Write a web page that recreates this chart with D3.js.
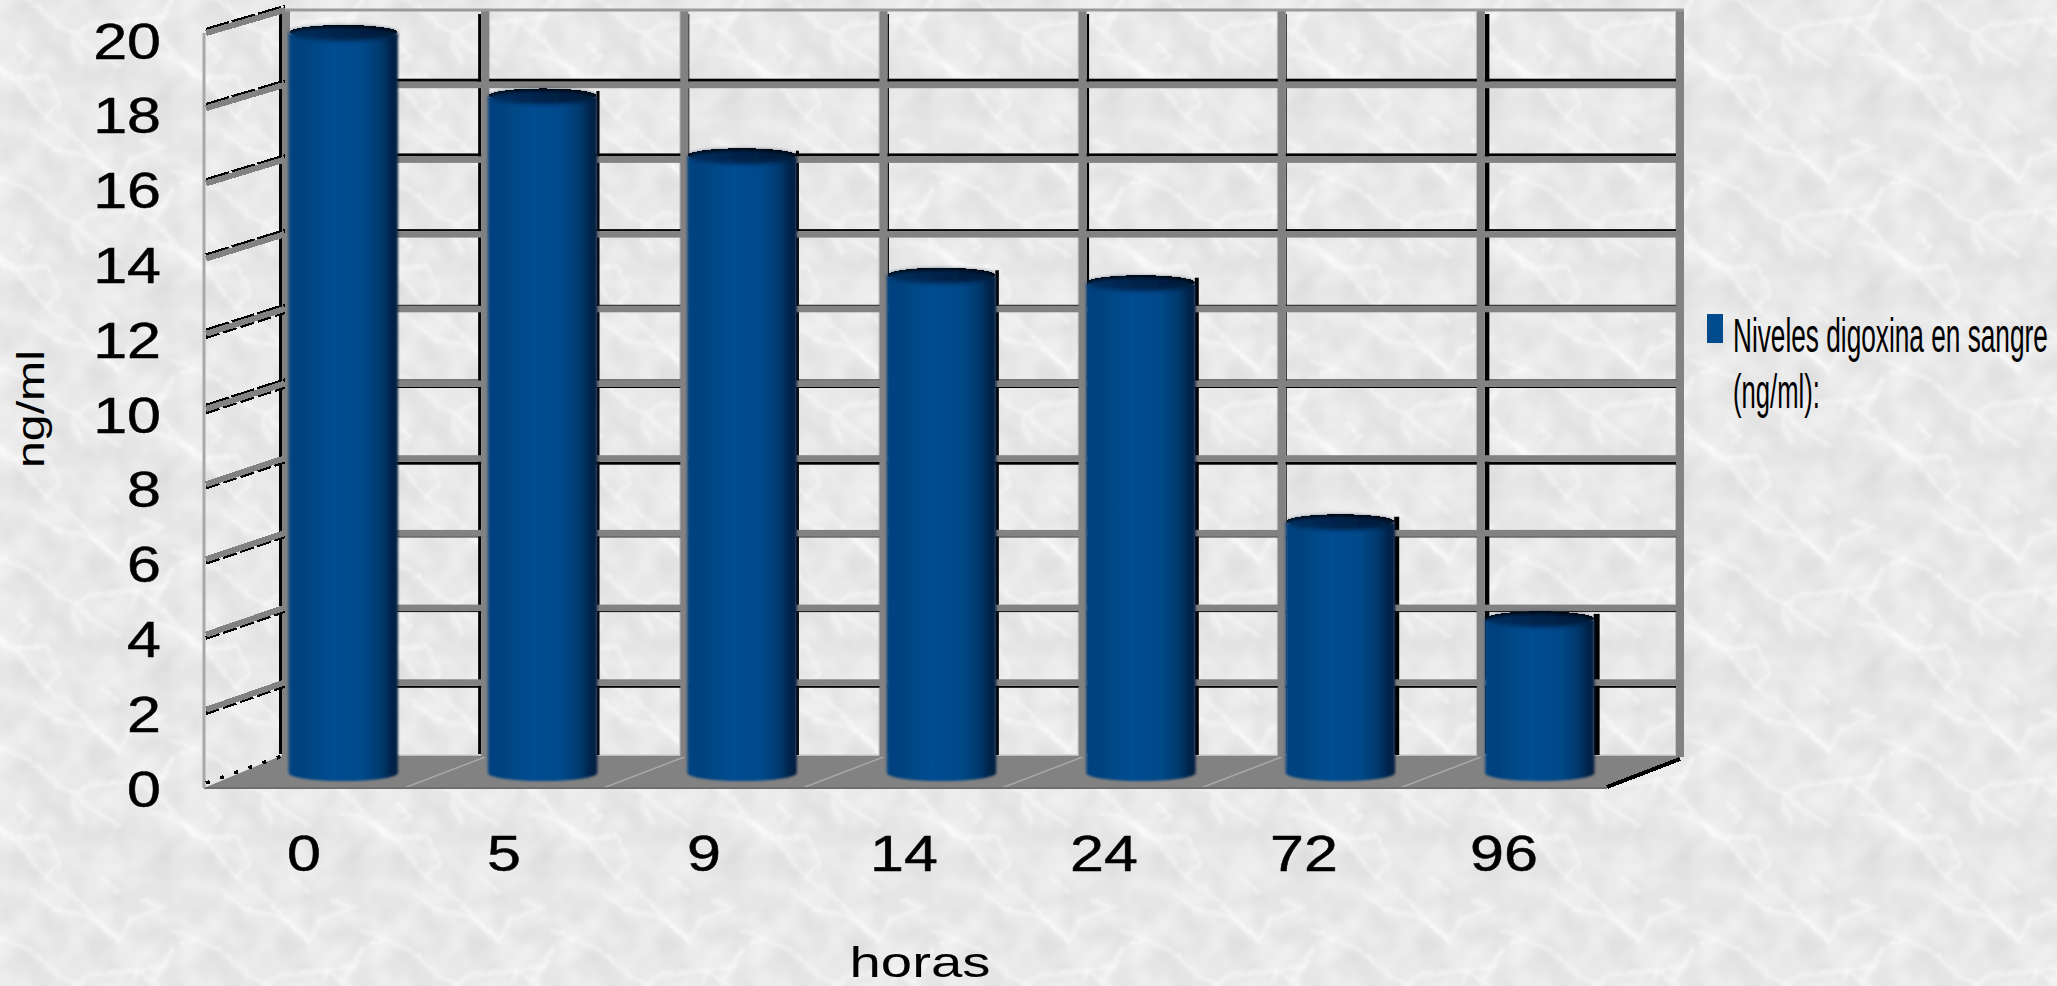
<!DOCTYPE html>
<html lang="es">
<head>
<meta charset="utf-8">
<title>Niveles de digoxina en sangre</title>
<script src="https://cdn.jsdelivr.net/npm/d3@7/dist/d3.min.js"></script>
<style>
  html, body { margin: 0; padding: 0; background: #e8e8e8; overflow: hidden; }
  svg { display: block; }
  text { font-family: "Liberation Sans", Arial, sans-serif; fill: #000; }
</style>
</head>
<body>
<script>
// Serum digoxin level by hours elapsed
const hours = ["0", "5", "9", "14", "24", "72", "96"];
const levels = [19.8, 18.1, 16.5, 13.3, 13.1, 6.7, 4.1];
const yTicks = [0, 2, 4, 6, 8, 10, 12, 14, 16, 18, 20];
const seriesName = ["Niveles digoxina en sangre", "(ng/ml):"];
const yTitle = "ng/ml";
const xTitle = "horas";

const W = 2057, H = 986;
const BLUE = "#004b8d", GRID = "#828282";

const svg = d3.select("body").append("svg").attr("width", W).attr("height", H);
const defs = svg.append("defs");

// Marble wallpaper tile: mottled grey with soft white veins
const tile = 190;
const veins = [
  [[0,190],[50,180],[120,210],[210,290],[260,310],[300,285],[360,280],[440,270],[430,310]],
  [[260,310],[290,345],[390,410]],
  [[250,310],[250,350],[280,400]],
  [[80,340],[120,380],[100,400]],
  [[440,270],[520,330],[550,370],[640,450]],
  [[0,390],[75,445],[150,540],[210,600]],
  [[75,445],[170,440],[210,520],[170,560]],
  [[120,30],[200,90],[300,110],[390,180],[420,120],[520,80],[450,60]],
  [[220,20],[350,150],[390,190]],
  [[520,260],[490,300]],
  [[480,370],[540,380],[620,440]],
  [[330,560],[390,610]],
  [[-30,150],[50,180]],
  [[550,200],[520,260],[440,270]]
];
const mottle = defs.append("filter").attr("id", "mottle")
  .attr("filterUnits", "userSpaceOnUse")
  .attr("x", 0).attr("y", 0).attr("width", tile).attr("height", tile)
  .attr("color-interpolation-filters", "sRGB");
mottle.append("feTurbulence").attr("type", "fractalNoise")
  .attr("baseFrequency", 0.03).attr("numOctaves", 2).attr("seed", 7)
  .attr("stitchTiles", "stitch");
mottle.append("feColorMatrix").attr("type", "matrix")
  .attr("values", "0.14 0 0 0 0.84  0.14 0 0 0 0.84  0.14 0 0 0 0.84  0 0 0 0 1");

const veinFx = defs.append("filter").attr("id", "veinFx")
  .attr("x", "-10%").attr("y", "-10%").attr("width", "120%").attr("height", "120%");
veinFx.append("feTurbulence").attr("type", "fractalNoise")
  .attr("baseFrequency", 0.05).attr("numOctaves", 3).attr("seed", 3).attr("result", "w");
veinFx.append("feDisplacementMap").attr("in", "SourceGraphic").attr("in2", "w")
  .attr("scale", 30).attr("xChannelSelector", "R").attr("yChannelSelector", "G");
veinFx.append("feGaussianBlur").attr("stdDeviation", 2.6);
defs.append("filter").attr("id", "soft").attr("x", "-20%").attr("y", "-20%")
  .attr("width", "140%").attr("height", "140%")
  .append("feGaussianBlur").attr("stdDeviation", 7);

const marble = defs.append("pattern").attr("id", "marble")
  .attr("patternUnits", "userSpaceOnUse")
  .attr("x", 1700).attr("y", 500).attr("width", tile).attr("height", tile);
marble.append("rect").attr("width", tile).attr("height", tile).attr("fill", "#e9e9e9");
marble.append("rect").attr("width", tile).attr("height", tile)
  .attr("filter", "url(#mottle)").attr("opacity", 0.85);
const veinG = marble.append("g").attr("transform", "scale(0.3333)");
const veinPath = d3.line().curve(d3.curveLinear);
[[0, 0], [-570, 0], [570, 0], [0, -570], [0, 570]].forEach(([dx, dy]) => {
  const g = veinG.append("g").attr("transform", `translate(${dx},${dy})`);
  g.append("g").attr("filter", "url(#soft)").selectAll("path").data(veins).join("path")
    .attr("d", veinPath).attr("fill", "none")
    .attr("stroke", "#fff").attr("stroke-width", 14).attr("stroke-opacity", 0.3);
  g.append("g").attr("filter", "url(#veinFx)").selectAll("path").data(veins).join("path")
    .attr("d", veinPath).attr("fill", "none")
    .attr("stroke", "#fff").attr("stroke-width", 5).attr("stroke-opacity", 0.38);
});
svg.append("rect").attr("width", W).attr("height", H).attr("fill", "url(#marble)");

// Plot box: back wall, front plane and the depth between them
const wallX = d3.scalePoint().domain(d3.range(8)).range([286, 1680]);
const wallY = d3.scaleLinear().domain([0, 20]).range([757, 10]);
const frontY = d3.scaleLinear().domain([0, 20]).range([785, 33]);
const frontLeft = 204, frontRight = 1607;
const depthLeft = 283;

const x = d3.scaleBand().domain(hours).range([243.5, 1639.5])
  .paddingInner(0.45).paddingOuter(0.225);
const xFront = d3.scaleBand().domain(hours).range([204, 1604]);
const yBar = d3.scaleLinear().domain([0, 20]).range([773, 26]);
const yLabel = d3.scaleLinear().domain([0, 20]).range([790, 42]);
const rows = hours.map((h, i) => ({ h, v: levels[i] }));

// Floor
const floorG = svg.append("g");
floorG.append("path")
  .attr("d", d3.line()([[frontLeft, 788], [frontRight, 788], [1680, 760], [1680, 755], [depthLeft, 755]]) + "Z")
  .attr("fill", GRID);
floorG.selectAll("line.seam").data(d3.range(1, 7)).join("line")
  .attr("x1", i => wallX(i) - 81).attr("y1", 788)
  .attr("x2", wallX).attr("y2", 757)
  .attr("stroke", "#a9a9a9").attr("stroke-width", 1.4);
floorG.append("line").attr("x1", depthLeft).attr("x2", 1680).attr("y1", 755).attr("y2", 755)
  .attr("stroke", "#d0d0d0").attr("stroke-width", 1.5);
floorG.append("line").attr("x1", frontLeft).attr("x2", frontRight).attr("y1", 788).attr("y2", 788)
  .attr("stroke", "#6e6e6e").attr("stroke-width", 2);

// Black shadow widths above and below each horizontal grid line
const shadowAbove = { 18: 3, 16: 3, 14: 2, 12: 1, 10: 1 };
const shadowBelow = { 10: 1, 8: 3, 6: 1, 4: 1, 2: 2 };
const wallLines = yTicks.filter(d => d > 0 && d < 20);

const gridG = svg.append("g");
// Shadow beside each vertical grid line: negative sits to its left
const colShadow = [-3, -3, 1, 1.5, 2.5, 1, 4.5];
gridG.selectAll("rect.vshadow").data(d3.range(7)).join("rect")
  .attr("x", i => colShadow[i] < 0 ? wallX(i) - 4 + colShadow[i] : wallX(i) + 4)
  .attr("width", i => Math.abs(colShadow[i]))
  .attr("y", 14).attr("height", 740).attr("fill", "#000");
// Pale edge on the vertical grid lines' open side
gridG.selectAll("rect.vlight").data(d3.range(1, 8)).join("rect")
  .attr("x", i => (colShadow[i] || 1) < 0 ? wallX(i) + 4 : wallX(i) - 5)
  .attr("width", 1).attr("y", 12).attr("height", 742).attr("fill", "#c4c4c4");
// Dark edge cast by the cylinders onto the wall
const edgeWidth = [0, 2, 2, 2.5, 3, 4, 5];
gridG.selectAll("rect.cast").data(rows).join("rect")
  .attr("x", d => x(d.h) + x.bandwidth() - 1)
  .attr("width", (d, i) => edgeWidth[i] ? edgeWidth[i] + 1 : 0)
  .attr("y", d => yBar(d.v) - 6).attr("height", d => 755 - yBar(d.v) + 6)
  .attr("fill", "#000");
gridG.selectAll("rect.above").data(wallLines).join("rect")
  .attr("x", depthLeft + 2).attr("width", 1391)
  .attr("y", d => wallY(d) - 3 - (shadowAbove[d] || 0))
  .attr("height", d => shadowAbove[d] || 0).attr("fill", "#000");
gridG.selectAll("rect.below").data(wallLines).join("rect")
  .attr("x", depthLeft + 2).attr("width", 1391)
  .attr("y", d => wallY(d) + 3.5)
  .attr("height", d => shadowBelow[d] || 0).attr("fill", "#000");
gridG.selectAll("rect.h").data(wallLines).join("rect")
  .attr("x", depthLeft).attr("width", 1400)
  .attr("y", d => wallY(d) - 3).attr("height", 6.5).attr("fill", GRID);
gridG.selectAll("rect.v").data(d3.range(8)).join("rect")
  .attr("x", i => wallX(i) - 4).attr("width", 8)
  .attr("y", 10).attr("height", 747).attr("fill", GRID);
gridG.append("line").attr("x1", depthLeft).attr("x2", 1684).attr("y1", 10).attr("y2", 10)
  .attr("stroke", "#9a9a9a").attr("stroke-width", 3);

// Left side wall: front edge and stair-stepped depth ticks
const sideG = svg.append("g");
sideG.append("line").attr("x1", frontLeft).attr("x2", frontLeft).attr("y1", frontY(20)).attr("y2", 788)
  .attr("stroke", "#a8a8a8").attr("stroke-width", 3);
const tick = sideG.selectAll("g.depth").data(yTicks).join("g").attr("shape-rendering", "crispEdges");
const tickLine = (sel, dy) => sel
  .attr("x1", frontLeft + 2).attr("x2", depthLeft + 2)
  .attr("y1", d => frontY(d) + dy).attr("y2", d => wallY(d) + dy);
tick.filter(d => d >= 10).append("line").call(tickLine, -3.5)
  .attr("stroke", "#000").attr("stroke-width", 3.5).attr("stroke-dasharray", "24 3");
tick.filter(d => d > 0 && d < 14).append("line").call(tickLine, 3.5)
  .attr("stroke", "#000").attr("stroke-width", 3.5).attr("stroke-dasharray", "14 4");
tick.filter(d => d > 0).append("line").call(tickLine, 0)
  .attr("stroke", GRID).attr("stroke-width", 6);
tick.filter(d => d === 0).append("line").call(tickLine, -2)
  .attr("stroke", "#000").attr("stroke-width", 3.5).attr("stroke-dasharray", "4 11");

// Black stepped edge along the right of the floor
svg.append("line").attr("x1", frontRight).attr("y1", 787).attr("x2", 1680).attr("y2", 759)
  .attr("shape-rendering", "crispEdges").attr("stroke", "#000").attr("stroke-width", 4);

// Cylinders
const shade = defs.append("linearGradient").attr("id", "cyl");
[[0, "#144f86"], [0.03, "#00427f"], [0.14, "#00437f"], [0.42, "#004d91"], [0.68, "#004989"],
 [0.85, "#00386c"], [0.96, "#001f42"], [1, "#0e2a48"]].forEach(([o, c]) =>
  shade.append("stop").attr("offset", o).attr("stop-color", c));
defs.append("filter").attr("id", "edge").attr("x", "-5%").attr("y", "-5%")
  .attr("width", "110%").attr("height", "110%")
  .append("feGaussianBlur").attr("stdDeviation", 0.9);
defs.append("filter").attr("id", "capBlur").attr("x", "-5%").attr("y", "-40%")
  .attr("width", "110%").attr("height", "180%")
  .append("feGaussianBlur").attr("stdDeviation", 2);
const capShade = defs.append("linearGradient").attr("id", "cap");
[[0, "#002f60"], [0.5, "#00224a"], [1, "#001a38"]].forEach(([o, c]) =>
  capShade.append("stop").attr("offset", o).attr("stop-color", c));

const RY = 7;
const bars = svg.append("g").selectAll("g.bar").data(rows).join("g");
const cx = d => x(d.h) + x.bandwidth() / 2;
bars.append("ellipse")
  .attr("cx", cx).attr("cy", d => yBar(d.v) - 1.5)
  .attr("rx", x.bandwidth() / 2 - 1).attr("ry", RY)
  .attr("fill", "#000").attr("shape-rendering", "crispEdges");
bars.append("path").attr("filter", "url(#edge)")
  .attr("d", d => {
    const l = x(d.h), w = x.bandwidth(), t = yBar(d.v), b = yBar(0);
    return `M${l},${t}L${l},${b}A${w / 2},${RY + 1} 0 0 0 ${l + w},${b}L${l + w},${t}Z`;
  })
  .attr("fill", "url(#cyl)");
bars.append("ellipse")
  .attr("cx", cx).attr("cy", d => yBar(d.v))
  .attr("rx", x.bandwidth() / 2 - 1).attr("ry", RY)
  .attr("fill", "url(#cap)").attr("filter", "url(#capBlur)");

// Axes
const digitStretch = 1.22;
const yAxis = svg.append("g").attr("transform", "translate(161,0)")
  .call(d3.axisLeft(yLabel).tickValues(yTicks).tickSize(0).tickPadding(0));
const xAxis = svg.append("g").attr("transform", "translate(0,835)")
  .call(d3.axisBottom(xFront).tickSize(0).tickPadding(0));
[yAxis, xAxis].forEach(a => {
  a.select(".domain").remove();
  a.selectAll("text")
    .style("font-family", '"Liberation Sans", Arial, sans-serif')
    .style("font-size", "50px")
    .attr("fill", "#000")
    .attr("stroke", "#000").attr("stroke-width", 0.5)
    .attr("transform", `scale(${digitStretch},1)`);
});

// Stretches or condenses a text to a given width around its anchor
function placeText(str, px, place, width, anchor) {
  const t = svg.append("text").attr("font-size", px).attr("text-anchor", anchor || "start").text(str);
  const k = width / t.node().getComputedTextLength();
  t.attr("transform", `${place} scale(${k},1)`);
  return t;
}

// Axis titles
placeText(yTitle, 39, "translate(43.5,409) rotate(-90)", 118, "middle");
placeText(xTitle, 42, "translate(920,977)", 141, "middle");

// Legend
svg.append("rect").attr("x", 1707).attr("y", 314).attr("width", 16).attr("height", 29).attr("fill", BLUE);
placeText(seriesName[0], 48, "translate(1733,352)", 315);
placeText(seriesName[1], 48, "translate(1733,408)", 87);
</script>
</body>
</html>
